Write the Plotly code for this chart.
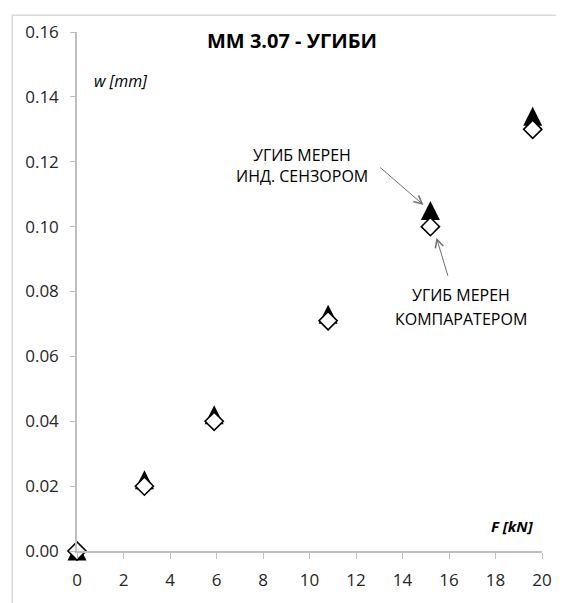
import plotly.graph_objects as go

# load F [kN] and deflection w [mm]
force = [0, 2.9, 5.9, 10.8, 15.2, 19.6]
w_sensor = [0, 0.022, 0.042, 0.073, 0.105, 0.134]      # inductive sensor (triangles)
w_comparator = [0, 0.020, 0.040, 0.071, 0.100, 0.130]  # comparator (diamonds)
y_ticks = [0, 0.02, 0.04, 0.06, 0.08, 0.10, 0.12, 0.14, 0.16]
x_ticks = list(range(0, 21, 2))

# page body has an 8px margin, so the figure is a bit smaller than the window
W, H = 556, 595
ml, mr, mt, mb = 69, 20, 19, 51
plot_w = W - ml - mr
plot_h = H - mt - mb

font = "Open Sans, DejaVu Sans, sans-serif"
grey_axis = "#bfbfbf"
tri_size = 19

fig = go.Figure()

# arrow-down turned 180 deg with a standoff = upward triangle centred on the point
fig.add_trace(go.Scatter(
    x=force, y=w_sensor, mode="markers",
    name="УГИБ МЕРЕН ИНД. СЕНЗОРОМ",
    marker=dict(symbol="arrow-down", angle=180, standoff=tri_size / 2,
                size=tri_size, color="black", line=dict(width=0)),
    cliponaxis=False
))

fig.add_trace(go.Scatter(
    x=force, y=w_comparator, mode="markers",
    name="УГИБ МЕРЕН КОМПАРАТЕРОМ",
    marker=dict(symbol="diamond", size=14, color="white",
                line=dict(color="black", width=1.6)),
    cliponaxis=False
))

fig.update_layout(
    width=W, height=H,
    margin=dict(l=ml, r=mr, t=mt, b=mb),
    paper_bgcolor="white", plot_bgcolor="white",
    showlegend=False,
    font=dict(family=font, size=17, color="#262626"),
    xaxis=dict(
        range=[0, 20], tickvals=x_ticks, ticks="outside", ticklen=6,
        tickcolor=grey_axis, showline=True, linecolor=grey_axis, linewidth=1.5,
        showgrid=False, zeroline=False, ticklabelstandoff=7,
    ),
    yaxis=dict(
        range=[0, 0.16], tickvals=y_ticks, tickformat=".2f",
        ticks="outside", ticklen=5, tickcolor=grey_axis,
        showline=True, linecolor=grey_axis, linewidth=1.5,
        showgrid=False, zeroline=False, ticklabelstandoff=8,
    ),
)

# outer chart border (cropped on the right and bottom)
fig.add_shape(type="rect", xref="paper", yref="paper",
              x0=-65 / plot_w, x1=1.2,
              y0=-0.2, y1=1 + 17 / plot_h,
              line=dict(color="#d9d9d9", width=1.5), layer="below")

fig.add_annotation(text="<b>MM 3.07 - УГИБИ</b>", xref="paper", yref="paper",
                   x=0.4625, y=0.983, yanchor="middle", showarrow=False,
                   font=dict(size=20, color="black"))
fig.add_annotation(text="<i>w [mm]</i>", x=0.64, y=0.1448, xanchor="left",
                   showarrow=False, font=dict(size=16, color="black"))
fig.add_annotation(text="<b><i>F [kN]</i></b>", x=19.74, y=0.0076, xanchor="right",
                   showarrow=False, font=dict(size=15, color="black"))

# callout labels, one annotation per line to keep the line spacing
labels = [("УГИБ МЕРЕН", 9.68, 0.1222), ("ИНД. СЕНЗОРОМ", 9.68, 0.1155),
          ("УГИБ МЕРЕН", 16.53, 0.0789), ("КОМПАРАТЕРОМ", 16.53, 0.0716)]
for txt, lx, ly in labels:
    fig.add_annotation(text=txt, x=lx, y=ly, showarrow=False,
                       font=dict(size=16, color="black"))

# arrows pointing at the 15.2 kN readings
arrow = dict(text="", showarrow=True, arrowhead=5, arrowsize=1.6, arrowwidth=1,
             arrowcolor="#707070", axref="x", ayref="y")
fig.add_annotation(x=14.9, y=0.1067, ax=12.98, ay=0.1186, **arrow)
fig.add_annotation(x=15.46, y=0.0966, ax=15.97, ay=0.0844, **arrow)

fig.write_html("out.html")
